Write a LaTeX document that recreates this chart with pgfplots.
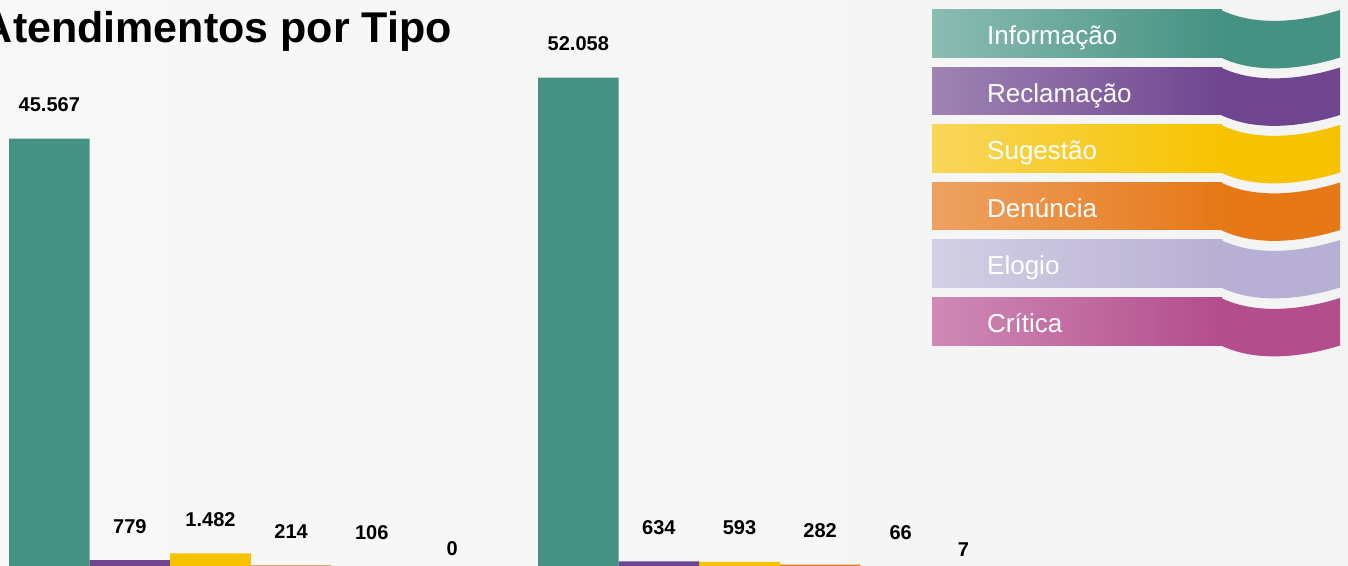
\documentclass[border=0pt]{standalone}
\usepackage{fontspec}
\setmainfont{Liberation Sans}
\usepackage{pgfplots}
\pgfplotsset{compat=1.18}
\definecolor{cInfo}{HTML}{459282}
\definecolor{cRecl}{HTML}{6F4590}
\definecolor{cSug}{HTML}{F7C300}
\definecolor{cDen}{HTML}{E67817}
\definecolor{cElo}{HTML}{B8B0D4}
\definecolor{cCri}{HTML}{B34D8B}
\definecolor{lInfo}{HTML}{8CBCB3}
\definecolor{lRecl}{HTML}{9E84B3}
\definecolor{lSug}{HTML}{F8D65A}
\definecolor{lDen}{HTML}{EDA263}
\definecolor{lElo}{HTML}{D3CFE4}
\definecolor{lCri}{HTML}{CF8AB6}
\definecolor{bgL}{HTML}{F8F8F8}
\definecolor{bgR}{HTML}{F4F4F4}
\newcommand\ribbon[4]{%
  \pgfmathsetmacro\T{565-#1}%
  \pgfmathsetmacro\B{565-#1-47.5}%
  \shade[left color=#2, right color=#3] (932,\B) rectangle (1222,\T);
  \fill[#3] (1221,\T) .. controls (1252,\T-15) and (1295,\T-14) .. (1340,\T) -- (1340,\B) .. controls (1295,\B-14) and (1252,\B-15) .. (1221,\B) -- cycle;
  \node[anchor=base west, text=white, inner sep=0pt, font=\fontsize{26}{30}\selectfont] at (987,\T-35) {#4};
}
\begin{document}
\begin{tikzpicture}[x=1pt,y=1pt]
\useasboundingbox (0,0) rectangle (1348,565);
\clip (0,0) rectangle (1348,565);
\shade[left color=bgL, right color=bgR] (-2,-2) rectangle (1350,567);
\begin{axis}[
  at={(0,-2.5)}, anchor=south west,
  scale only axis, width=1348pt, height=567.5pt,
  hide axis,
  xmin=-0.4741, xmax=2.0741,
  ymin=0, ymax=60325,
  ybar=0pt, bar width=80.6pt,
  clip=false,
  nodes near coords,
  every node near coord/.append style={font=\bfseries\fontsize{20}{24}\selectfont, anchor=south, inner sep=0pt, yshift=26.5pt, text=black},
  /pgf/number format/.cd, 1000 sep={.}, assume math mode=true,
  /pgfplots/.cd,
]
\addplot[fill=cInfo, draw=none] coordinates {(0,45567) (1,52058)};
\addplot[fill=cRecl, draw=none] coordinates {(0,779) (1,634)};
\addplot[fill=cSug, draw=none] coordinates {(0,1482) (1,593)};
\addplot[fill=cDen, draw=none] coordinates {(0,214) (1,282)};
\addplot[fill=cElo, draw=none] coordinates {(0,106) (1,66)};
\addplot[fill=cCri, draw=none, every node near coord/.append style={yshift=-15.5pt}, coordinate style/.condition={x>0.5}{xshift=-18pt}] coordinates {(0,0) (1,7)};
\end{axis}
\node[anchor=base east, inner sep=0pt, font=\bfseries\fontsize{43}{50}\selectfont] at (452,522.3) {Atendimentos por Tipo};
\ribbon{10}{lInfo}{cInfo}{Informação}
\ribbon{67.5}{lRecl}{cRecl}{Reclamação}
\ribbon{125}{lSug}{cSug}{Sugestão}
\ribbon{182.5}{lDen}{cDen}{Denúncia}
\ribbon{240}{lElo}{cElo}{Elogio}
\ribbon{298}{lCri}{cCri}{Crítica}
\end{tikzpicture}
\end{document}
